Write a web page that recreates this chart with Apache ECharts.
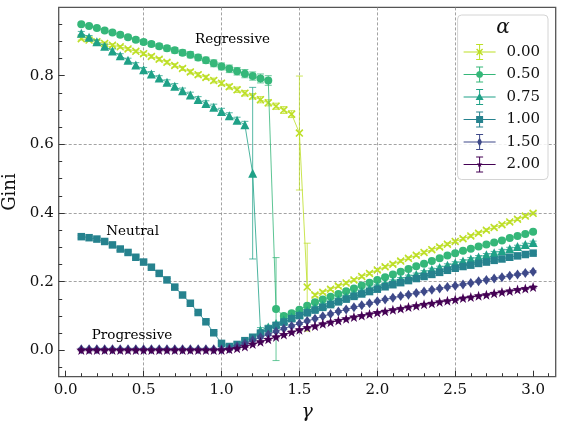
<!DOCTYPE html>
<html>
<head>
<meta charset="utf-8">
<script src="https://cdn.jsdelivr.net/npm/echarts@6/dist/echarts.min.js"></script>
<style>
  html, body { margin: 0; padding: 0; background: #fff; }
  #chart { width: 563px; height: 426px; }
</style>
</head>
<body>
<div id="chart"></div>
<script>
// gamma values (x)
var gamma = [0.10, 0.15, 0.20, 0.25, 0.30, 0.35, 0.40, 0.45, 0.50, 0.55,
  0.60, 0.65, 0.70, 0.75, 0.80, 0.85, 0.90, 0.95, 1.00, 1.05,
  1.10, 1.15, 1.20, 1.25, 1.30, 1.35, 1.40, 1.45, 1.50, 1.55,
  1.60, 1.65, 1.70, 1.75, 1.80, 1.85, 1.90, 1.95, 2.00, 2.05,
  2.10, 2.15, 2.20, 2.25, 2.30, 2.35, 2.40, 2.45, 2.50, 2.55,
  2.60, 2.65, 2.70, 2.75, 2.80, 2.85, 2.90, 2.95, 3.00]

var alphaNames = ['0.00', '0.50', '0.75', '1.00', '1.50', '2.00']

// Gini per alpha
var gini000 = [0.908, 0.904, 0.899, 0.894, 0.889, 0.884, 0.878, 0.871, 0.864, 0.856,
  0.848, 0.839, 0.830, 0.821, 0.811, 0.803, 0.795, 0.786, 0.778, 0.768,
  0.759, 0.749, 0.740, 0.730, 0.721, 0.711, 0.700, 0.688, 0.633, 0.184,
  0.161, 0.169, 0.178, 0.187, 0.196, 0.205, 0.215, 0.224, 0.234, 0.243,
  0.251, 0.260, 0.268, 0.277, 0.285, 0.293, 0.301, 0.309, 0.317, 0.325,
  0.333, 0.341, 0.350, 0.358, 0.366, 0.374, 0.382, 0.391, 0.399]
var gini050 = [0.950, 0.945, 0.939, 0.932, 0.926, 0.919, 0.912, 0.905, 0.898, 0.892,
  0.886, 0.880, 0.874, 0.867, 0.861, 0.853, 0.845, 0.836, 0.827, 0.820,
  0.813, 0.806, 0.799, 0.792, 0.786, 0.120, 0.100, 0.108, 0.118, 0.130,
  0.140, 0.148, 0.156, 0.164, 0.172, 0.180, 0.189, 0.197, 0.205, 0.213,
  0.221, 0.229, 0.237, 0.245, 0.252, 0.260, 0.268, 0.276, 0.283, 0.290,
  0.296, 0.302, 0.308, 0.314, 0.320, 0.327, 0.333, 0.339, 0.345]
var gini075 = [0.924, 0.912, 0.899, 0.886, 0.872, 0.858, 0.845, 0.831, 0.817, 0.805,
  0.793, 0.781, 0.769, 0.756, 0.744, 0.731, 0.719, 0.708, 0.696, 0.683,
  0.670, 0.657, 0.516, 0.058, 0.068, 0.078, 0.088, 0.097, 0.106, 0.115,
  0.124, 0.132, 0.140, 0.148, 0.156, 0.164, 0.172, 0.180, 0.187, 0.194,
  0.201, 0.208, 0.215, 0.221, 0.228, 0.235, 0.241, 0.248, 0.254, 0.260,
  0.266, 0.272, 0.278, 0.284, 0.290, 0.296, 0.302, 0.308, 0.314]
var gini100 = [0.331, 0.328, 0.324, 0.317, 0.307, 0.295, 0.285, 0.271, 0.257, 0.242,
  0.224, 0.205, 0.184, 0.161, 0.137, 0.110, 0.083, 0.051, 0.020, 0.011,
  0.017, 0.028, 0.038, 0.050, 0.062, 0.072, 0.082, 0.092, 0.101, 0.109,
  0.117, 0.125, 0.133, 0.141, 0.149, 0.157, 0.164, 0.171, 0.178, 0.185,
  0.191, 0.197, 0.203, 0.209, 0.215, 0.221, 0.227, 0.233, 0.239, 0.244,
  0.248, 0.253, 0.257, 0.262, 0.266, 0.271, 0.275, 0.279, 0.283]
var gini150 = [0.003, 0.003, 0.003, 0.003, 0.003, 0.003, 0.003, 0.003, 0.003, 0.003,
  0.003, 0.003, 0.003, 0.003, 0.003, 0.003, 0.003, 0.003, 0.003, 0.005,
  0.012, 0.020, 0.029, 0.038, 0.046, 0.055, 0.063, 0.071, 0.078, 0.085,
  0.092, 0.099, 0.106, 0.113, 0.119, 0.125, 0.131, 0.137, 0.143, 0.148,
  0.153, 0.158, 0.162, 0.167, 0.171, 0.176, 0.180, 0.184, 0.188, 0.192,
  0.196, 0.201, 0.205, 0.209, 0.213, 0.217, 0.221, 0.225, 0.229]
var gini200 = [0.001, 0.001, 0.001, 0.001, 0.001, 0.001, 0.001, 0.001, 0.001, 0.001,
  0.001, 0.001, 0.001, 0.001, 0.001, 0.001, 0.001, 0.001, 0.001, 0.003,
  0.006, 0.011, 0.018, 0.025, 0.032, 0.039, 0.046, 0.053, 0.060, 0.066,
  0.071, 0.077, 0.082, 0.087, 0.092, 0.097, 0.101, 0.106, 0.110, 0.114,
  0.118, 0.122, 0.126, 0.130, 0.134, 0.137, 0.141, 0.144, 0.148, 0.152,
  0.155, 0.159, 0.162, 0.166, 0.170, 0.173, 0.177, 0.180, 0.184]

// error bar half widths
var err000 = [0.004, 0.004, 0.004, 0.004, 0.004, 0.004, 0.004, 0.004, 0.005, 0.005,
  0.005, 0.005, 0.005, 0.006, 0.006, 0.006, 0.006, 0.007, 0.007, 0.007,
  0.008, 0.008, 0.008, 0.009, 0.009, 0.009, 0.010, 0.010, 0.166, 0.128,
  0.005, 0.004, 0.004, 0.004, 0.004, 0.004, 0.004, 0.004, 0.004, 0.004,
  0.004, 0.004, 0.004, 0.004, 0.004, 0.004, 0.004, 0.004, 0.004, 0.004,
  0.004, 0.004, 0.004, 0.004, 0.004, 0.004, 0.004, 0.004, 0.004]
var err050 = [0.004, 0.004, 0.005, 0.005, 0.005, 0.006, 0.006, 0.006, 0.007, 0.007,
  0.007, 0.008, 0.008, 0.008, 0.009, 0.009, 0.009, 0.010, 0.010, 0.011,
  0.011, 0.012, 0.012, 0.013, 0.014, 0.150, 0.006, 0.005, 0.004, 0.004,
  0.004, 0.004, 0.004, 0.004, 0.004, 0.004, 0.004, 0.004, 0.004, 0.004,
  0.004, 0.004, 0.004, 0.004, 0.004, 0.004, 0.004, 0.004, 0.004, 0.004,
  0.004, 0.004, 0.004, 0.004, 0.004, 0.004, 0.004, 0.004, 0.004]
var err075 = [0.005, 0.005, 0.005, 0.006, 0.006, 0.006, 0.006, 0.007, 0.007, 0.007,
  0.007, 0.007, 0.008, 0.008, 0.008, 0.008, 0.008, 0.009, 0.009, 0.009,
  0.009, 0.010, 0.250, 0.008, 0.005, 0.004, 0.004, 0.004, 0.004, 0.004,
  0.004, 0.004, 0.004, 0.004, 0.004, 0.004, 0.004, 0.004, 0.004, 0.004,
  0.004, 0.004, 0.004, 0.004, 0.004, 0.004, 0.004, 0.004, 0.004, 0.004,
  0.004, 0.004, 0.004, 0.004, 0.004, 0.004, 0.004, 0.004, 0.004]
var err100 = [0.004, 0.004, 0.004, 0.004, 0.004, 0.004, 0.004, 0.004, 0.004, 0.004,
  0.004, 0.004, 0.004, 0.004, 0.004, 0.004, 0.004, 0.004, 0.004, 0.004,
  0.004, 0.004, 0.004, 0.004, 0.004, 0.004, 0.004, 0.004, 0.004, 0.004,
  0.004, 0.004, 0.004, 0.004, 0.004, 0.004, 0.004, 0.004, 0.004, 0.004,
  0.004, 0.004, 0.004, 0.004, 0.004, 0.004, 0.004, 0.004, 0.004, 0.004,
  0.004, 0.004, 0.004, 0.004, 0.004, 0.004, 0.004, 0.004, 0.004]
var err150 = [0.003, 0.003, 0.003, 0.003, 0.003, 0.003, 0.003, 0.003, 0.003, 0.003,
  0.003, 0.003, 0.003, 0.003, 0.003, 0.003, 0.003, 0.003, 0.003, 0.003,
  0.003, 0.003, 0.003, 0.003, 0.003, 0.003, 0.003, 0.003, 0.003, 0.003,
  0.003, 0.003, 0.003, 0.003, 0.003, 0.003, 0.003, 0.003, 0.003, 0.003,
  0.003, 0.003, 0.003, 0.003, 0.003, 0.003, 0.003, 0.003, 0.003, 0.003,
  0.003, 0.003, 0.003, 0.003, 0.003, 0.003, 0.003, 0.003, 0.003]
var err200 = err150.slice()

// ticks
var xMajor = [0, 0.5, 1.0, 1.5, 2.0, 2.5, 3.0]
var xMinor = [0.1, 0.2, 0.3, 0.4, 0.6, 0.7, 0.8, 0.9, 1.1, 1.2, 1.3, 1.4, 1.6, 1.7, 1.8, 1.9,
  2.1, 2.2, 2.3, 2.4, 2.6, 2.7, 2.8, 2.9, 3.1]
var yMajor = [0, 0.2, 0.4, 0.6, 0.8]
var yMinor = [-0.05, 0.05, 0.1, 0.15, 0.25, 0.3, 0.35, 0.45, 0.5, 0.55, 0.65, 0.7, 0.75, 0.85, 0.9, 0.95]

// annotations
var notes = [
  { text: 'Regressive', x: 0.83, y: 0.905 },
  { text: 'Neutral', x: 0.26, y: 0.345 },
  { text: 'Progressive', x: 0.167, y: 0.043 }
]

var FONT = 'DejaVu Serif'
var colors = ['#bddf26', '#35b779', '#1fa187', '#26828e', '#3e4989', '#440154']
var xPath = 'path://M1.4 0L10 8.6L8.6 10L0 1.4Z M8.6 0L10 1.4L1.4 10L0 8.6Z'
var starPath = 'path://M5 0L6.18 3.38L9.76 3.45L6.9 5.62L7.94 9.05L5 7L2.06 9.05L3.1 5.62L0.24 3.45L3.82 3.38Z'
var symbols = [xPath, 'circle', 'triangle', 'rect', 'diamond', starPath]
var sizes = [8, 8, 9, 7.5, [7, 10], 10]
var allGini = [gini000, gini050, gini075, gini100, gini150, gini200]
var allErr = [err000, err050, err075, err100, err150, err200]

// legend icons: errorbar + marker in a 32x16 box
var bar = 'M0 7.5L32 7.5L32 8.5L0 8.5Z M15.5 0L16.5 0L16.5 16L15.5 16Z M12.5 0L19.5 0L19.5 1L12.5 1Z M12.5 15L19.5 15L19.5 16L12.5 16Z '
var legendMarks = [
  'M13.5 4.5L19.5 10.5L18.5 11.5L12.5 5.5Z M18.5 4.5L19.5 5.5L13.5 11.5L12.5 10.5Z',
  'M19.5 8L19.03 9.75L17.75 11.03L16 11.5L14.25 11.03L12.97 9.75L12.5 8L12.97 6.25L14.25 4.97L16 4.5L17.75 4.97L19.03 6.25Z',
  'M16 4L20 11L12 11Z',
  'M12.5 4.5L19.5 4.5L19.5 11.5L12.5 11.5Z',
  'M16 3.5L18.5 8L16 12.5L13.5 8Z',
  'M16 5L16.76 6.95L18.85 7.07L17.24 8.4L17.76 10.43L16 9.3L14.24 10.43L14.76 8.4L13.15 7.07L15.24 6.95Z'
]

function renderErr (params, api) {
  var x = api.value(0)
  var lo = api.coord([x, api.value(1)])
  var hi = api.coord([x, api.value(2)])
  var st = { stroke: api.visual('color'), lineWidth: 1, opacity: 0.75 }
  var c = 3.5
  return {
    type: 'group',
    children: [
      { type: 'line', shape: { x1: lo[0], y1: lo[1], x2: hi[0], y2: hi[1] }, style: st },
      { type: 'line', shape: { x1: lo[0] - c, y1: lo[1], x2: lo[0] + c, y2: lo[1] }, style: st },
      { type: 'line', shape: { x1: hi[0] - c, y1: hi[1], x2: hi[0] + c, y2: hi[1] }, style: st }
    ]
  }
}

var series = []
alphaNames.forEach(function (name, k) {
  var vals = allGini[k]
  var errs = allErr[k]
  series.push({
    name: name + ' err',
    type: 'custom',
    renderItem: renderErr,
    encode: { x: 0, y: [1, 2] },
    itemStyle: { color: colors[k] },
    data: gamma.map(function (g, i) { return [g, vals[i] - errs[i], vals[i] + errs[i]] }),
    silent: true,
    z: 2 + 2 * k
  })
  series.push({
    name: name,
    type: 'line',
    data: gamma.map(function (g, i) { return [g, vals[i]] }),
    symbol: symbols[k],
    symbolSize: sizes[k],
    showAllSymbol: true,
    itemStyle: { color: colors[k], borderWidth: 0 },
    lineStyle: { color: colors[k], width: 1, opacity: 0.8 },
    emphasis: { disabled: true },
    z: 3 + 2 * k
  })
})

series.push({
  name: 'notes',
  type: 'scatter',
  symbolSize: 0,
  silent: true,
  z: 30,
  data: notes.map(function (n) {
    return { value: [n.x, n.y], label: { formatter: n.text } }
  }),
  label: {
    show: true,
    position: 'right',
    distance: 0,
    fontFamily: FONT,
    fontSize: 13.5,
    color: '#000',
    opacity: 1,
    textBorderWidth: 0
  }
})

var axisFont = { fontFamily: FONT, fontSize: 15, color: '#111' }
var fmt = function (v) { return Number(v).toFixed(1) }

var option = {
  animation: false,
  backgroundColor: '#fff',
  grid: {
    left: 58.7, right: 7.3, top: 7.4, bottom: 49.3,
    outerBoundsMode: 'none',
    show: true, borderColor: '#555', borderWidth: 1.3, backgroundColor: 'transparent'
  },
  xAxis: [{
    type: 'value', min: -0.045, max: 3.145, splitNumber: 6,
    name: 'γ', nameLocation: 'middle', nameGap: 18,
    nameTextStyle: { fontFamily: FONT, fontSize: 19, fontStyle: 'italic', color: '#111' },
    axisLine: { show: false, onZero: false },
    axisTick: { show: true, inside: true, length: 6, customValues: xMajor, lineStyle: { color: '#333' } },
    axisLabel: Object.assign({ customValues: xMajor, margin: 6, formatter: fmt }, axisFont),
    splitLine: { show: true, showMinLine: false, showMaxLine: false, lineStyle: { color: '#8c8c8c', width: 0.8, type: [3, 2] } }
  }, {
    type: 'value', min: -0.045, max: 3.145, position: 'bottom',
    axisLine: { show: false, onZero: false },
    axisTick: { show: true, inside: true, length: 3.5, customValues: xMinor, lineStyle: { color: '#333' } },
    axisLabel: { show: false },
    splitLine: { show: false }
  }],
  yAxis: [{
    type: 'value', min: -0.077, max: 0.999, splitNumber: 5,
    name: 'Gini', nameLocation: 'middle', nameGap: 32,
    nameTextStyle: { fontFamily: FONT, fontSize: 18, color: '#111' },
    axisLine: { show: false, onZero: false },
    axisTick: { show: true, inside: true, length: 6, customValues: yMajor, lineStyle: { color: '#333' } },
    axisLabel: Object.assign({ customValues: yMajor, margin: 5, formatter: fmt }, axisFont),
    splitLine: { show: true, showMinLine: false, showMaxLine: false, lineStyle: { color: '#8c8c8c', width: 0.8, type: [3, 2] } }
  }, {
    type: 'value', min: -0.077, max: 0.999, position: 'left',
    axisLine: { show: false, onZero: false },
    axisTick: { show: true, inside: true, length: 3.5, customValues: yMinor, lineStyle: { color: '#333' } },
    axisLabel: { show: false },
    splitLine: { show: false }
  }],
  legend: {
    data: alphaNames.map(function (n, k) { return { name: n, icon: 'path://' + bar + legendMarks[k] } }),
    orient: 'vertical',
    right: 15,
    top: 15,
    itemWidth: 32,
    itemHeight: 16,
    itemGap: 6.5,
    padding: [29, 8, 7, 6],
    backgroundColor: 'rgba(255,255,255,0.85)',
    borderColor: '#d4d4d4',
    borderWidth: 1,
    borderRadius: 4,
    selectedMode: false,
    itemStyle: { borderWidth: 0 },
    textStyle: { fontFamily: FONT, fontSize: 15, color: '#111', padding: [0, 0, 0, 6] },
    z: 40
  },
  graphic: [{
    type: 'text',
    x: 503,
    y: 28,
    z: 100,
    style: {
      text: 'α',
      font: 'italic 20px "DejaVu Serif"',
      fill: '#111',
      textAlign: 'center',
      textVerticalAlign: 'middle'
    }
  }],
  series: series
}

var chart = echarts.init(document.getElementById('chart'))
chart.setOption(option)
</script>
</body>
</html>
